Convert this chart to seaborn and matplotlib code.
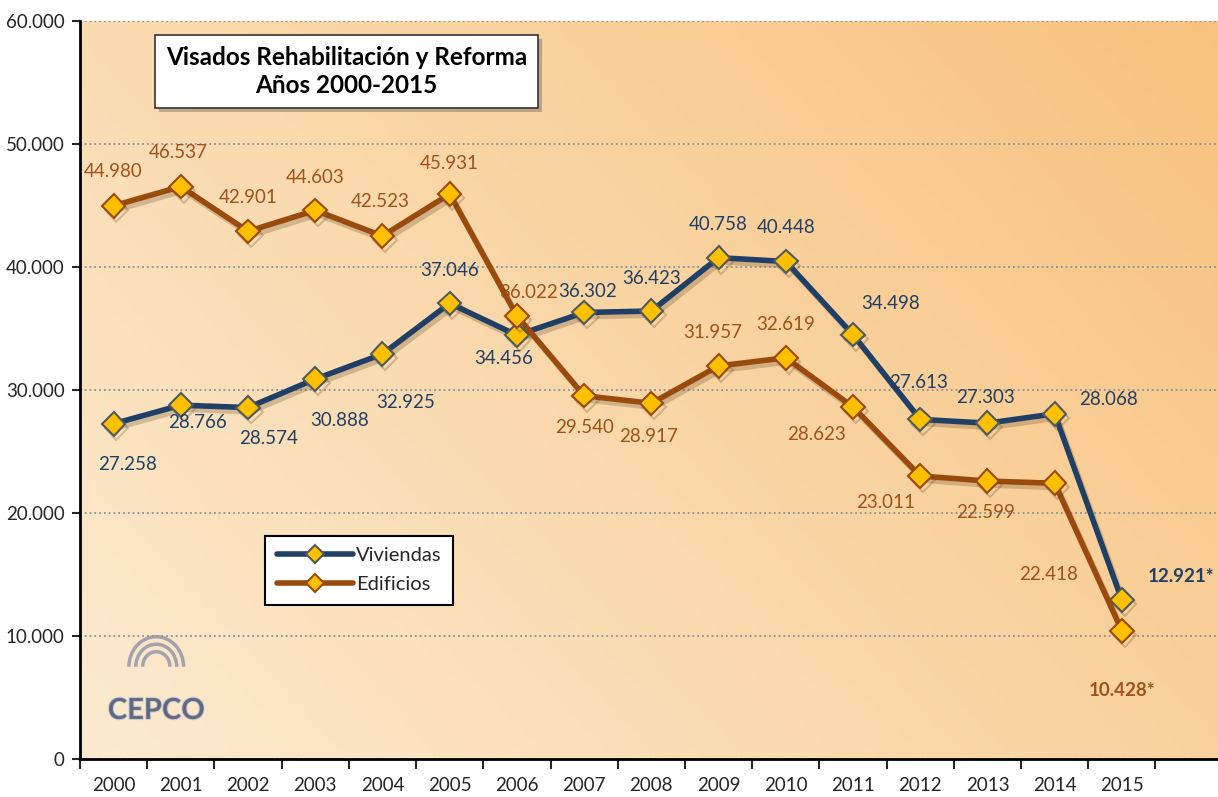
import numpy as np
import pandas as pd
import seaborn as sns
import matplotlib.pyplot as plt
import matplotlib.patheffects as pe
from matplotlib.patches import Arc
from matplotlib.colors import to_rgb

# datos
anios = ['2000', '2001', '2002', '2003', '2004', '2005', '2006', '2007',
         '2008', '2009', '2010', '2011', '2012', '2013', '2014', '2015']
viviendas = [27258, 28766, 28574, 30888, 32925, 37046, 34456, 36302,
             36423, 40758, 40448, 34498, 27613, 27303, 28068, 12921]
edificios = [44980, 46537, 42901, 44603, 42523, 45931, 36022, 29540,
             28917, 31957, 32619, 28623, 23011, 22599, 22418, 10428]
y_ticks = [0, 10000, 20000, 30000, 40000, 50000, 60000]

# desplazamiento (px) de cada etiqueta respecto a su punto
off_viv = [(14, -41), (17, -17), (21, -31), (24, -41), (23, -48), (0, 33),
           (-13, -23), (3, 21), (0, 32), (0, 33), (0, 34), (38, 31),
           (-2, 37), (-2, 26), (54, 14), (59, 24)]
off_edi = [(0, 34), (-3, 34), (0, 34), (0, 33), (-2, 34), (0, 31),
           (12, 23), (0, -32), (-3, -33), (-6, 33), (0, 33), (-37, -28),
           (-35, -27), (-2, -31), (-6, -91), (0, -60)]

AZUL = '#203F66'
MARRON = '#9A4A0C'
ORO = '#FFC000'


def fmt_miles(v):
    return f'{v:,.0f}'.replace(',', '.')


sns.set_theme(style='white')
plt.rcParams['font.family'] = ['Lato', 'DejaVu Sans']

fig = plt.figure(figsize=(12.18, 7.97), dpi=100)
ax = fig.add_axes([80 / 1218, 38 / 797, 1138 / 1218, 738 / 797])

# fondo degradado
n = 200
gx, gy = np.meshgrid(np.linspace(0, 1, n), np.linspace(0, 1, n))
t = np.clip((gx * 0.75 + gy * 0.45) / 1.2, 0, 1)[..., None]
c0 = np.array(to_rgb('#FCEBD0'))
c1 = np.array(to_rgb('#F8C27E'))
grad = c0 * (1 - t) + c1 * t
ax.imshow(grad, extent=[0, 1, 0, 1], transform=ax.transAxes, origin='lower',
          aspect='auto', zorder=0)

df = pd.DataFrame({'pos': np.arange(len(anios)), 'Viviendas': viviendas,
                   'Edificios': edificios})

sombra = [pe.SimpleLineShadow(offset=(2, -3), alpha=0.25, shadow_color='#5a4020'), pe.Normal()]

for serie, color, borde in [('Viviendas', AZUL, '#4F5A60'), ('Edificios', MARRON, '#9A4A0C')]:
    sns.lineplot(data=df, x='pos', y=serie, ax=ax, color=color, linewidth=4,
                 marker='D', markersize=12, markerfacecolor=ORO,
                 markeredgecolor=borde, markeredgewidth=1.5, label=serie,
                 zorder=3)
    ax.lines[-1].set_path_effects(sombra)

# etiquetas de datos
for i, v in enumerate(viviendas):
    ultimo = i == len(viviendas) - 1
    ax.annotate(fmt_miles(v) + ('*' if ultimo else ''), (i, v),
                xytext=off_viv[i], textcoords='offset pixels',
                ha='center', va='center', fontsize=13.5, color=AZUL,
                fontweight='bold' if ultimo else 'normal', zorder=5)
for i, v in enumerate(edificios):
    ultimo = i == len(edificios) - 1
    ax.annotate(fmt_miles(v) + ('*' if ultimo else ''), (i, v),
                xytext=off_edi[i], textcoords='offset pixels',
                ha='center', va='center', fontsize=13.5, color='#A0521A',
                fontweight='bold' if ultimo else 'normal', zorder=5)

# ejes
ax.set_xlim(-0.5, 16.43)
ax.set_ylim(0, 60000)
ax.set_yticks(y_ticks)
ax.set_yticklabels([fmt_miles(v) for v in y_ticks], fontsize=13.5)
ax.set_xticks(np.arange(len(anios)))
ax.set_xticklabels(anios, fontsize=13.5)
ax.set_xticks(np.arange(len(anios) + 1) - 0.5, minor=True)
ax.tick_params(axis='x', which='major', length=0, pad=13)
ax.tick_params(axis='x', which='minor', length=7, width=1.5, direction='out', bottom=True)
ax.tick_params(axis='y', length=6, width=1.5, direction='out', left=True, pad=5)
ax.set_xlabel('')
ax.set_ylabel('')
for lado in ['top', 'right']:
    ax.spines[lado].set_visible(False)
for lado in ['left', 'bottom']:
    ax.spines[lado].set_color('black')
    ax.spines[lado].set_linewidth(2)
ax.grid(axis='y', linestyle=':', color='#8a8f99', linewidth=1.3, zorder=1)
ax.set_axisbelow(True)

# leyenda
leg = ax.legend(loc='upper left', bbox_to_anchor=(0.163, 0.302), fontsize=14.5,
                frameon=True, fancybox=False, edgecolor='black', handlelength=3.8,
                borderpad=0.55, labelspacing=0.6, handletextpad=0.15,
                borderaxespad=0, framealpha=1)
leg.get_frame().set_linewidth(1.5)
leg.get_frame().set_facecolor('white')
for h in leg.legend_handles:
    h.set_markersize(9)
    h.set_path_effects([])

# titulo en recuadro
titulo = ax.text(0.234, 0.9316, 'Visados Rehabilitación y Reforma\nAños 2000-2015',
                 transform=ax.transAxes, ha='center', va='center', fontsize=17.5,
                 fontweight='bold', color='black', linespacing=1.3, zorder=6,
                 bbox=dict(boxstyle='square,pad=0.45', facecolor='white',
                           edgecolor='#333333', linewidth=1.2))
titulo.get_bbox_patch().set_path_effects(
    [pe.SimplePatchShadow(offset=(3, -3), alpha=0.35), pe.Normal()])

# logo aproximado
ax.text(0.067, 0.065, 'CEPCO', transform=ax.transAxes, ha='center',
        va='center', fontsize=21, fontweight='bold', color='#56607E',
        alpha=0.8, zorder=2,
        path_effects=[pe.withStroke(linewidth=1.5, foreground='#c9c9cf')])
for r in [0.012, 0.018, 0.024]:
    ax.add_patch(Arc((0.067, 0.125), r * 2, r * 2 * 1138 / 738 * 1.1,
                     theta1=0, theta2=180, transform=ax.transAxes,
                     color='#8d93a8', linewidth=2.5, alpha=0.8, zorder=2))

fig.savefig('out.png', dpi=100)
